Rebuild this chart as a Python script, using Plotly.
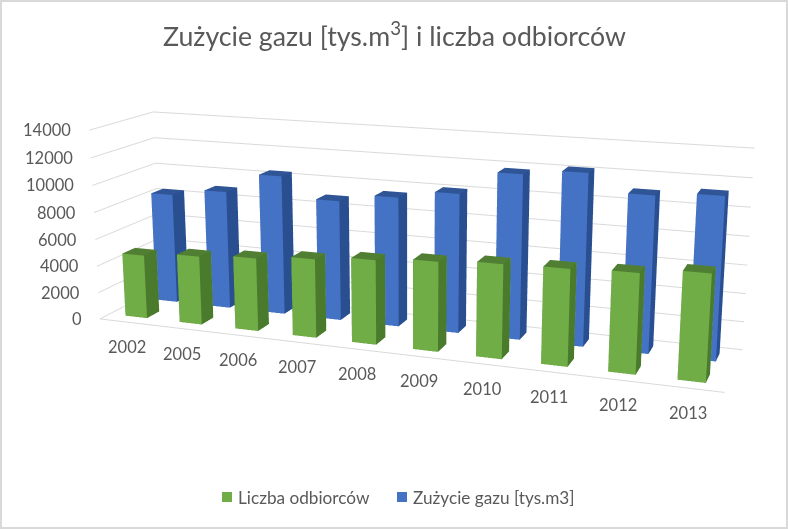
import math
import plotly.graph_objects as go

categories = ["2002", "2005", "2006", "2007", "2008", "2009", "2010", "2011", "2012", "2013"]
odbiorcy = [4750, 5080, 5350, 5700, 6050, 6350, 6600, 6700, 6850, 7250]
zuzycie = [8350, 8900, 10400, 8900, 9500, 10100, 11800, 12200, 11000, 11300]
z_ticks = [0, 2000, 4000, 6000, 8000, 10000, 12000, 14000]

TXT = "#595959"
GRID = "#D9D9D9"
BAR_W = 0.40
BAR_D = 0.20

# The browser window shows a 788x529 part of a larger figure, so the fixed 45 degree
# field of view of the 3D scene gives the long-lens perspective of the reference.
W, H = 1728, 1160
OX, OY = 454, 342


def px(x):
    return (x + OX) / W


def py(y):
    return 1 - (y + OY) / H


def bars(values, y_center, front, side, top, name):
    xs, ys, zs, ii, jj, kk, fc = [], [], [], [], [], [], []
    for n, v in enumerate(values):
        x0, x1 = n + 0.5 - BAR_W / 2, n + 0.5 + BAR_W / 2
        y0, y1 = y_center - BAR_D / 2, y_center + BAR_D / 2
        b = len(xs)
        for z in (0, v):
            for x, y in ((x0, y0), (x1, y0), (x1, y1), (x0, y1)):
                xs.append(x); ys.append(y); zs.append(z)
        faces = [((0, 1, 5), front), ((0, 5, 4), front),
                 ((1, 2, 6), side), ((1, 6, 5), side),
                 ((4, 5, 6), top), ((4, 6, 7), top),
                 ((0, 3, 7), side), ((0, 7, 4), side),
                 ((3, 2, 6), front), ((3, 6, 7), front)]
        for (a, c, d), col in faces:
            ii.append(b + a); jj.append(b + c); kk.append(b + d); fc.append(col)
    return go.Mesh3d(x=xs, y=ys, z=zs, i=ii, j=jj, k=kk, facecolor=fc, flatshading=True, name=name,
                     hoverinfo="skip",
                     lighting=dict(ambient=1, diffuse=0, specular=0, roughness=1, fresnel=0))


theta, phi, dist = math.radians(20), math.radians(14), 4.6
fig = go.Figure()
fig.add_trace(bars(zuzycie, 0.75, "#4472C4", "#2A4F90", "#2F5597", "Zużycie gazu [tys.m3]"))
fig.add_trace(bars(odbiorcy, 0.25, "#70AD47", "#4A7A2B", "#507E32", "Liczba odbiorców"))

scene_notes = [dict(x=0, y=0, z=t, text=str(t), showarrow=False, xanchor="right", yanchor="middle", xshift=-16,
                    font=dict(size=16.5, color=TXT)) for t in z_ticks]
scene_notes += [dict(x=i + 0.5, y=0, z=0, text=c, showarrow=False, xanchor="center", yanchor="middle",
                     xshift=0, yshift=-25, font=dict(size=16.5, color=TXT)) for i, c in enumerate(categories)]

fig.update_layout(
    width=W, height=H, paper_bgcolor="white", showlegend=False,
    margin=dict(l=0, r=0, t=0, b=0),
    font=dict(family="Lato, Open Sans, sans-serif", color=TXT),
    scene=dict(
        domain=dict(x=[0, 1], y=[0, 1]),
        aspectmode="manual", aspectratio=dict(x=2.13, y=0.42, z=0.66),
        annotations=scene_notes,
        camera=dict(eye=dict(x=dist * math.sin(theta) * math.cos(phi),
                             y=-dist * math.cos(theta) * math.cos(phi),
                             z=dist * math.sin(phi)),
                    center=dict(x=0, y=0, z=0), up=dict(x=0, y=0, z=1),
                    projection=dict(type="perspective")),
        xaxis=dict(title="", range=[0, len(categories)], showticklabels=False, tickmode="array",
                   tickvals=[i + 0.5 for i in range(len(categories))], ticktext=categories,
                   showgrid=False, zeroline=False, showbackground=False, showline=True,
                   linecolor=GRID, linewidth=2, ticks="", showspikes=False),
        yaxis=dict(title="", range=[0, 1], showticklabels=False, showgrid=False, zeroline=False,
                   showbackground=False, showline=False, ticks="", showspikes=False),
        zaxis=dict(title="", range=[0, 14001], tickmode="array", tickvals=z_ticks, showticklabels=False,
                   showgrid=True, gridcolor=GRID, gridwidth=2, zeroline=False,
                   showbackground=False, showline=False, ticks="", showspikes=False),
    ),
    annotations=[
        dict(text="Zużycie gazu [tys.m<sup>3</sup>] i liczba odbiorców", x=px(394), y=py(34), xref="paper", yref="paper",
             showarrow=False, font=dict(size=26.7, color=TXT), xanchor="center", yanchor="middle"),
        dict(text="Liczba odbiorców", x=px(236), y=py(497), xref="paper", yref="paper", showarrow=False,
             xanchor="left", yanchor="middle", font=dict(size=17.2, color=TXT)),
        dict(text="Zużycie gazu [tys.m3]", x=px(411), y=py(497), xref="paper", yref="paper", showarrow=False,
             xanchor="left", yanchor="middle", font=dict(size=17.2, color=TXT)),
    ],
    shapes=[
        dict(type="rect", xref="paper", yref="paper", x0=px(1), x1=px(787), y0=py(1), y1=py(528),
             line=dict(color=GRID, width=2)),
        dict(type="rect", xref="paper", yref="paper", x0=px(222), x1=px(232), y0=py(502), y1=py(492),
             fillcolor="#70AD47", line_width=0),
        dict(type="rect", xref="paper", yref="paper", x0=px(397), x1=px(407), y0=py(502), y1=py(492),
             fillcolor="#4472C4", line_width=0),
    ],
)
post = """
document.documentElement.style.overflow='hidden';
document.body.style.overflow='hidden';
document.body.style.margin='0';
var gd=document.getElementById('{plot_id}');
gd.style.position='absolute';
gd.style.left='-%dpx';
gd.style.top='-%dpx';
""" % (OX, OY)
fig.write_html("out.html", post_script=post)
